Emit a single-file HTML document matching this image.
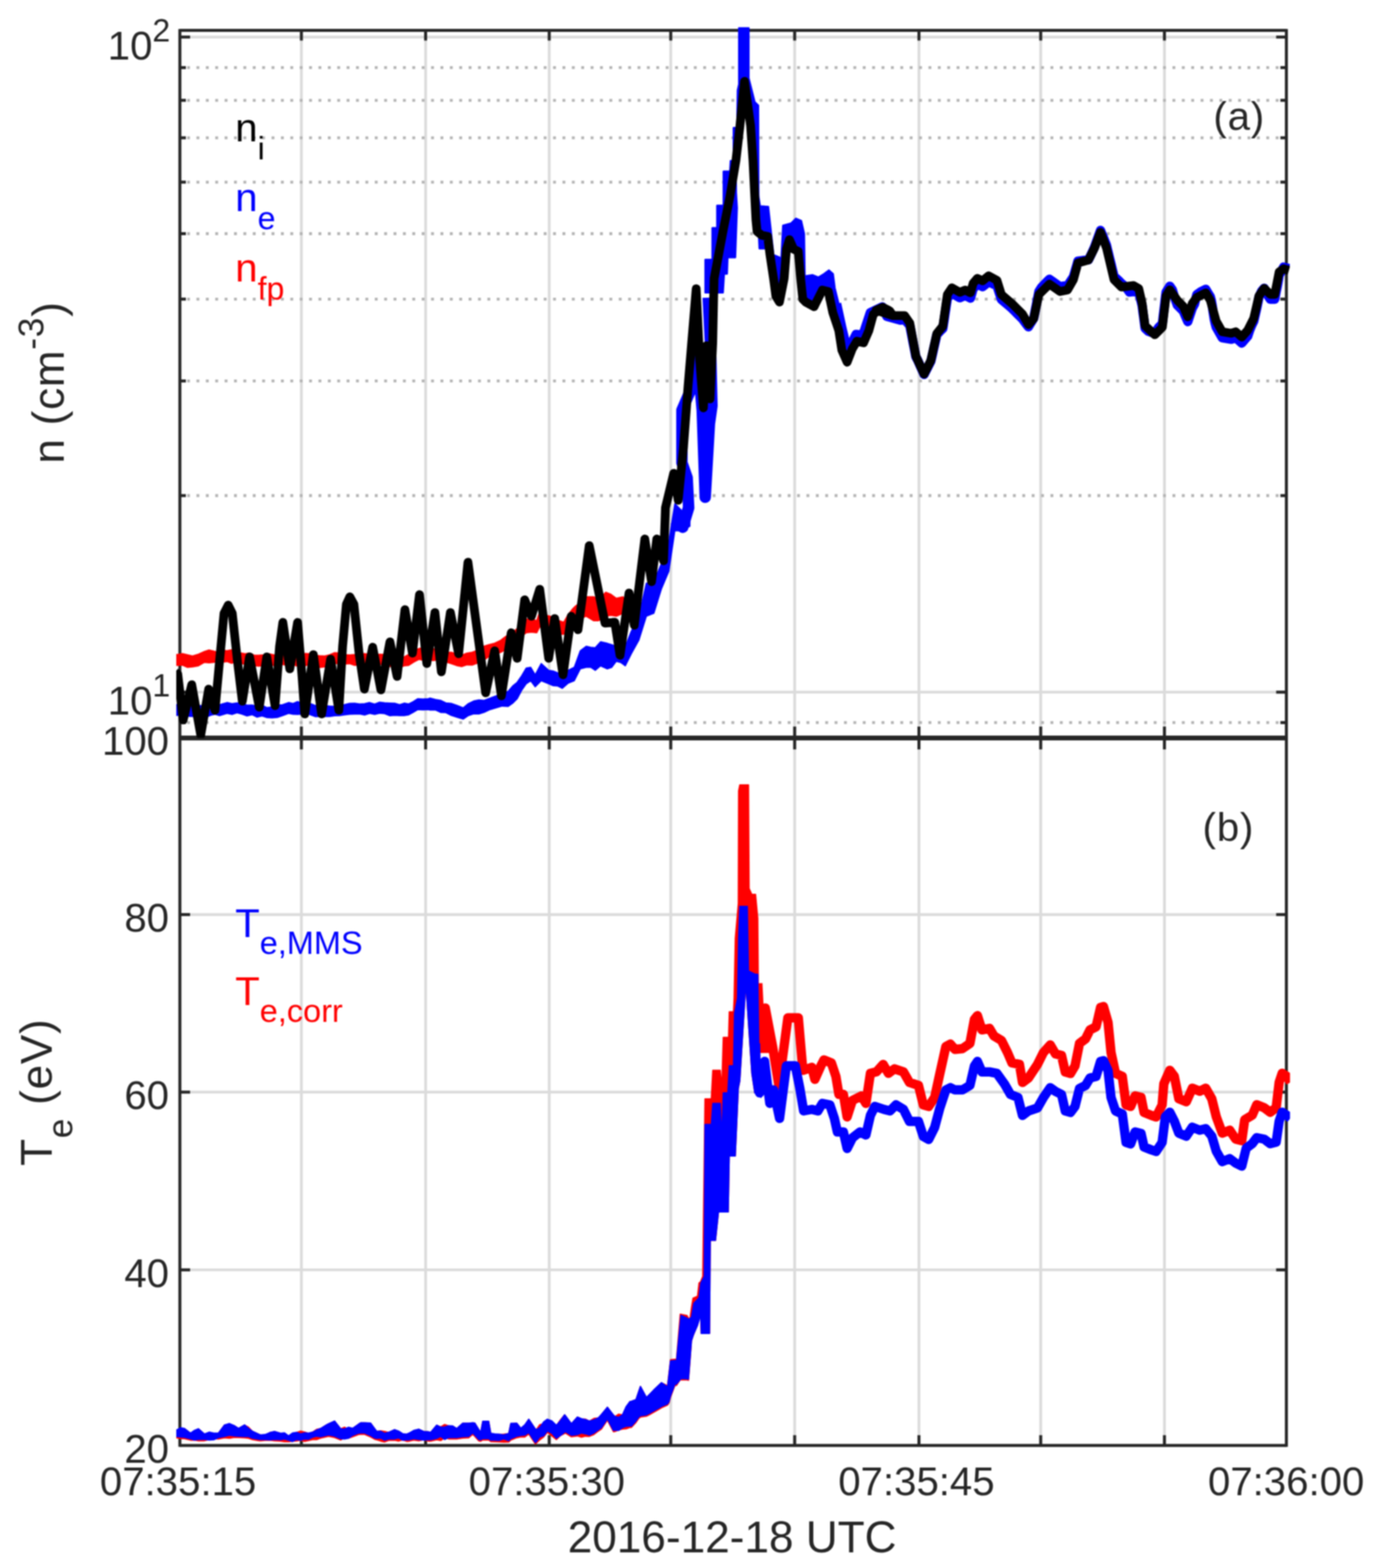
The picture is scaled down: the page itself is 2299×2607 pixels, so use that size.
<!DOCTYPE html>
<html lang="en"><head><meta charset="utf-8"><title>MMS density and electron temperature</title>
<style>html,body{margin:0;padding:0;background:#fff;}body{width:2299px;height:2607px;overflow:hidden;}svg{display:block;filter:blur(0.9px);}text{font-family:"Liberation Sans",Arial,Helvetica,sans-serif;}</style>
</head><body>
<svg width="2299" height="2607" viewBox="0 0 2299 2607" role="img" aria-label="MMS ion and electron density and electron temperature time series">
<rect width="2299" height="2607" fill="#fff"/>
<defs><clipPath id="c1"><rect x="293.0" y="45.4" width="1851.4" height="1181.6"/></clipPath>
<clipPath id="c2"><rect x="293.0" y="1227.0" width="1851.4" height="1178.2"/></clipPath></defs>
<g stroke="#dbdbdb" stroke-width="4.6" fill="none">
<line x1="501.0" y1="50.4" x2="501.0" y2="2403.2"/>
<line x1="707.5" y1="50.4" x2="707.5" y2="2403.2"/>
<line x1="913.0" y1="50.4" x2="913.0" y2="2403.2"/>
<line x1="1115.0" y1="50.4" x2="1115.0" y2="2403.2"/>
<line x1="1321.0" y1="50.4" x2="1321.0" y2="2403.2"/>
<line x1="1527.6" y1="50.4" x2="1527.6" y2="2403.2"/>
<line x1="1730.0" y1="50.4" x2="1730.0" y2="2403.2"/>
<line x1="1935.7" y1="50.4" x2="1935.7" y2="2403.2"/>
<line x1="299.0" y1="61.6" x2="2138.4" y2="61.6"/>
<line x1="299.0" y1="1150.8" x2="2138.4" y2="1150.8"/>
<line x1="299.0" y1="2111.3" x2="2138.4" y2="2111.3"/>
<line x1="299.0" y1="1815.8" x2="2138.4" y2="1815.8"/>
<line x1="299.0" y1="1520.6" x2="2138.4" y2="1520.6"/>
</g>
<g stroke="#b4b4b4" stroke-width="4.8" stroke-dasharray="4.8 10.8" fill="none">
<line x1="311.0" y1="1201.4" x2="2138.4" y2="1201.4"/>
<line x1="311.0" y1="824.0" x2="2138.4" y2="824.0"/>
<line x1="311.0" y1="633.4" x2="2138.4" y2="633.4"/>
<line x1="311.0" y1="497.3" x2="2138.4" y2="497.3"/>
<line x1="311.0" y1="388.5" x2="2138.4" y2="388.5"/>
<line x1="311.0" y1="302.8" x2="2138.4" y2="302.8"/>
<line x1="311.0" y1="229.1" x2="2138.4" y2="229.1"/>
<line x1="311.0" y1="166.8" x2="2138.4" y2="166.8"/>
<line x1="311.0" y1="112.4" x2="2138.4" y2="112.4"/>
</g>
<g stroke="#262626" stroke-width="5" fill="none">
<line x1="299.0" y1="48.2" x2="299.0" y2="2405.4"/>
<line x1="2138.4" y1="48.2" x2="2138.4" y2="2405.4"/>
<line x1="299.0" y1="50.4" x2="2138.4" y2="50.4"/>
<line x1="299.0" y1="2403.2" x2="2138.4" y2="2403.2"/>
<line x1="299.0" y1="1227.0" x2="2138.4" y2="1227.0" stroke-width="7.8"/>
<line x1="501.0" y1="50.4" x2="501.0" y2="67.4"/>
<line x1="501.0" y1="1208.0" x2="501.0" y2="1246.0"/>
<line x1="501.0" y1="2386.2" x2="501.0" y2="2403.2"/>
<line x1="707.5" y1="50.4" x2="707.5" y2="67.4"/>
<line x1="707.5" y1="1208.0" x2="707.5" y2="1246.0"/>
<line x1="707.5" y1="2386.2" x2="707.5" y2="2403.2"/>
<line x1="913.0" y1="50.4" x2="913.0" y2="67.4"/>
<line x1="913.0" y1="1208.0" x2="913.0" y2="1246.0"/>
<line x1="913.0" y1="2386.2" x2="913.0" y2="2403.2"/>
<line x1="1115.0" y1="50.4" x2="1115.0" y2="67.4"/>
<line x1="1115.0" y1="1208.0" x2="1115.0" y2="1246.0"/>
<line x1="1115.0" y1="2386.2" x2="1115.0" y2="2403.2"/>
<line x1="1321.0" y1="50.4" x2="1321.0" y2="67.4"/>
<line x1="1321.0" y1="1208.0" x2="1321.0" y2="1246.0"/>
<line x1="1321.0" y1="2386.2" x2="1321.0" y2="2403.2"/>
<line x1="1527.6" y1="50.4" x2="1527.6" y2="67.4"/>
<line x1="1527.6" y1="1208.0" x2="1527.6" y2="1246.0"/>
<line x1="1527.6" y1="2386.2" x2="1527.6" y2="2403.2"/>
<line x1="1730.0" y1="50.4" x2="1730.0" y2="67.4"/>
<line x1="1730.0" y1="1208.0" x2="1730.0" y2="1246.0"/>
<line x1="1730.0" y1="2386.2" x2="1730.0" y2="2403.2"/>
<line x1="1935.7" y1="50.4" x2="1935.7" y2="67.4"/>
<line x1="1935.7" y1="1208.0" x2="1935.7" y2="1246.0"/>
<line x1="1935.7" y1="2386.2" x2="1935.7" y2="2403.2"/>
<line x1="299.0" y1="61.6" x2="316.0" y2="61.6"/>
<line x1="2121.4" y1="61.6" x2="2138.4" y2="61.6"/>
<line x1="299.0" y1="1150.8" x2="316.0" y2="1150.8"/>
<line x1="2121.4" y1="1150.8" x2="2138.4" y2="1150.8"/>
<line x1="299.0" y1="1201.4" x2="309.0" y2="1201.4"/>
<line x1="2128.4" y1="1201.4" x2="2138.4" y2="1201.4"/>
<line x1="299.0" y1="824.0" x2="309.0" y2="824.0"/>
<line x1="2128.4" y1="824.0" x2="2138.4" y2="824.0"/>
<line x1="299.0" y1="633.4" x2="309.0" y2="633.4"/>
<line x1="2128.4" y1="633.4" x2="2138.4" y2="633.4"/>
<line x1="299.0" y1="497.3" x2="309.0" y2="497.3"/>
<line x1="2128.4" y1="497.3" x2="2138.4" y2="497.3"/>
<line x1="299.0" y1="388.5" x2="309.0" y2="388.5"/>
<line x1="2128.4" y1="388.5" x2="2138.4" y2="388.5"/>
<line x1="299.0" y1="302.8" x2="309.0" y2="302.8"/>
<line x1="2128.4" y1="302.8" x2="2138.4" y2="302.8"/>
<line x1="299.0" y1="229.1" x2="309.0" y2="229.1"/>
<line x1="2128.4" y1="229.1" x2="2138.4" y2="229.1"/>
<line x1="299.0" y1="166.8" x2="309.0" y2="166.8"/>
<line x1="2128.4" y1="166.8" x2="2138.4" y2="166.8"/>
<line x1="299.0" y1="112.4" x2="309.0" y2="112.4"/>
<line x1="2128.4" y1="112.4" x2="2138.4" y2="112.4"/>
<line x1="299.0" y1="2111.3" x2="316.0" y2="2111.3"/>
<line x1="2121.4" y1="2111.3" x2="2138.4" y2="2111.3"/>
<line x1="299.0" y1="1815.8" x2="316.0" y2="1815.8"/>
<line x1="2121.4" y1="1815.8" x2="2138.4" y2="1815.8"/>
<line x1="299.0" y1="1520.6" x2="316.0" y2="1520.6"/>
<line x1="2121.4" y1="1520.6" x2="2138.4" y2="1520.6"/>
</g>
<polygon clip-path="url(#c1)" points="290.0,1088.2 295.0,1088.2 303.3,1086.7 311.6,1088.7 320.0,1090.7 329.9,1087.6 339.9,1083.2 347.4,1080.8 354.9,1082.5 362.4,1084.5 369.9,1081.0 377.4,1081.9 384.8,1080.4 392.3,1081.6 399.8,1085.5 407.3,1087.1 414.8,1085.7 422.3,1089.2 429.8,1089.4 438.5,1088.7 447.2,1087.1 456.0,1088.9 464.7,1086.9 471.8,1085.2 479.0,1088.7 486.1,1089.3 493.2,1086.3 500.4,1088.1 507.5,1086.4 514.6,1086.9 522.9,1089.5 531.3,1090.3 539.6,1090.7 547.9,1088.7 556.2,1085.3 564.5,1085.7 572.9,1088.6 581.2,1089.1 589.5,1088.2 597.8,1087.1 606.1,1086.8 614.5,1088.2 622.8,1089.7 631.1,1087.7 639.4,1088.2 647.7,1090.1 656.1,1088.9 664.4,1091.9 671.9,1092.2 679.4,1088.2 688.1,1081.4 696.8,1078.2 704.3,1076.5 711.8,1078.7 720.0,1078.3 727.5,1081.0 734.9,1080.5 742.4,1084.8 749.9,1084.5 758.7,1086.9 767.4,1089.5 776.1,1086.0 784.9,1084.5 794.8,1080.8 803.6,1074.7 812.3,1072.0 822.3,1069.4 832.3,1064.6 839.8,1058.9 847.3,1053.7 854.7,1049.6 864.7,1040.4 874.7,1029.6 883.4,1028.4 892.2,1032.1 897.2,1017.1 905.9,1022.7 914.6,1024.6 922.1,1030.0 929.6,1031.9 937.1,1034.6 944.6,1021.5 952.1,1012.1 957.1,1007.2 965.8,1001.1 974.5,992.2 987.0,992.2 994.5,997.2 1007.0,984.7 1015.7,988.2 1024.5,994.7 1035.7,992.2 1037.4,994.7 1037.4,1017.1 1035.7,1019.6 1024.5,1024.6 1015.7,1023.0 1007.0,1024.6 994.5,1032.1 987.0,1032.1 974.5,1024.6 965.8,1028.1 957.1,1027.1 952.1,1032.1 944.6,1042.1 937.1,1054.6 929.6,1054.5 922.1,1051.2 914.6,1049.6 905.9,1045.9 897.2,1042.1 892.2,1052.1 883.4,1051.0 874.7,1052.1 864.7,1059.6 854.7,1072.0 847.3,1076.6 839.8,1080.5 832.3,1084.5 822.3,1088.5 812.3,1092.0 803.6,1098.1 794.8,1102.0 784.9,1105.7 776.1,1105.4 767.4,1108.2 758.7,1106.4 749.9,1103.2 742.4,1101.1 734.9,1100.1 727.5,1097.0 720.0,1098.3 711.8,1096.7 704.3,1097.9 696.8,1096.2 688.1,1100.6 679.4,1106.2 671.9,1107.0 664.4,1109.9 656.1,1106.4 647.7,1108.4 639.4,1106.2 631.1,1104.3 622.8,1104.1 614.5,1106.2 606.1,1104.1 597.8,1105.2 589.5,1106.2 581.2,1103.4 572.9,1104.1 564.5,1103.7 556.2,1103.1 547.9,1106.7 539.6,1108.7 531.3,1109.8 522.9,1103.7 514.6,1104.9 507.5,1106.9 500.4,1103.6 493.2,1107.2 486.1,1104.3 479.0,1107.2 471.8,1105.0 464.7,1104.9 456.0,1106.7 447.2,1104.6 438.5,1106.9 429.8,1107.4 422.3,1106.8 414.8,1103.7 407.3,1104.7 399.8,1102.5 392.3,1100.4 384.8,1102.9 377.4,1099.9 369.9,1101.0 362.4,1099.9 354.9,1101.2 347.4,1102.1 339.9,1101.2 329.9,1106.9 320.0,1108.7 311.6,1109.5 303.3,1105.9 295.0,1106.2 290.0,1106.2" fill="#ff0000" stroke="#ff0000" stroke-width="2.0" stroke-linejoin="round"/>
<polygon clip-path="url(#c1)" points="290.0,1171.8 298.3,1171.1 306.6,1173.9 315.0,1173.0 322.1,1171.7 329.2,1173.2 336.4,1173.3 343.5,1171.5 350.6,1170.3 357.7,1174.0 364.9,1171.8 377.4,1168.1 385.7,1169.9 394.0,1168.8 402.3,1169.3 410.6,1172.4 419.0,1172.3 427.3,1174.3 435.6,1172.6 443.9,1176.6 452.2,1175.5 461.0,1172.0 469.7,1171.8 479.7,1168.1 487.2,1169.7 494.7,1166.5 502.1,1169.3 509.6,1168.9 517.1,1170.2 524.6,1173.2 532.1,1170.0 539.6,1173.0 547.9,1174.1 556.2,1174.4 564.5,1171.8 572.9,1171.4 581.2,1169.6 589.5,1169.3 597.8,1170.6 606.1,1170.0 614.5,1168.1 622.8,1170.7 631.1,1167.4 639.4,1168.6 647.7,1168.9 656.1,1169.3 664.4,1171.8 671.9,1169.1 679.4,1170.5 686.8,1166.7 694.3,1161.8 703.1,1162.3 711.8,1161.8 715.0,1160.6 723.7,1162.9 732.4,1164.4 741.2,1168.7 749.9,1169.4 759.9,1172.9 769.9,1176.9 778.6,1169.8 787.4,1165.6 796.1,1163.8 804.8,1164.4 814.8,1160.8 824.8,1156.9 834.8,1152.2 844.8,1149.4 852.2,1140.6 859.7,1134.4 867.2,1123.5 874.7,1110.7 882.2,1109.5 889.7,1122.0 899.7,1103.2 912.1,1114.5 919.6,1115.7 927.1,1118.7 934.6,1122.0 944.6,1114.3 954.6,1109.5 964.6,1082.0 974.5,1074.5 982.0,1076.2 989.5,1077.0 998.3,1067.1 1009.5,1069.6 1017.0,1072.0 1024.5,1074.5 1031.9,1074.1 1039.4,1074.5 1049.4,1049.6 1061.9,1024.6 1074.4,969.7 1086.9,967.2 1099.3,937.3 1111.8,899.8 1121.8,837.4 1134.3,849.9 1146.8,800.0 1146.8,874.9 1134.3,882.4 1121.8,882.4 1111.8,949.8 1099.3,979.7 1086.9,1019.6 1074.4,1024.6 1061.9,1064.6 1049.4,1087.0 1039.4,1107.0 1031.9,1101.5 1024.5,1099.5 1017.0,1109.5 1009.5,1112.0 998.3,1107.0 989.5,1114.5 982.0,1109.5 974.5,1109.5 964.6,1112.0 954.6,1131.9 944.6,1135.8 934.6,1144.4 927.1,1140.6 919.6,1140.0 912.1,1136.9 899.7,1131.9 889.7,1141.9 882.2,1131.9 874.7,1136.9 867.2,1147.8 859.7,1161.9 852.2,1169.2 844.8,1174.4 834.8,1173.9 824.8,1176.9 814.8,1179.7 804.8,1184.4 796.1,1187.1 787.4,1186.9 778.6,1189.7 769.9,1195.6 759.9,1192.6 749.9,1189.4 741.2,1184.8 732.4,1184.4 723.7,1180.4 715.0,1180.6 711.8,1179.8 703.1,1180.2 694.3,1179.8 686.8,1184.3 679.4,1188.5 671.9,1189.7 664.4,1189.8 656.1,1189.3 647.7,1189.9 639.4,1186.5 631.1,1185.7 622.8,1187.7 614.5,1186.0 606.1,1188.8 597.8,1187.0 589.5,1187.3 581.2,1187.4 572.9,1188.6 564.5,1189.8 556.2,1190.0 547.9,1191.2 539.6,1191.0 532.1,1191.2 524.6,1191.5 517.1,1188.7 509.6,1185.9 502.1,1187.3 494.7,1187.7 487.2,1187.6 479.7,1186.0 469.7,1189.8 461.0,1192.8 452.2,1193.5 443.9,1193.0 435.6,1190.2 427.3,1192.3 419.0,1188.2 410.6,1190.3 402.3,1187.3 394.0,1185.1 385.7,1187.9 377.4,1186.0 364.9,1189.8 357.7,1187.5 350.6,1189.1 343.5,1192.0 336.4,1192.2 329.2,1188.3 322.1,1191.3 315.0,1191.0 306.6,1189.1 298.3,1188.9 290.0,1189.8" fill="#0000ff" stroke="#0000ff" stroke-width="2.0" stroke-linejoin="round"/>
<polyline clip-path="url(#c1)" points="1121.1,864.3 1134.9,876.7 1144.8,844.3 1142.3,794.4 1133.6,769.4 1133.6,682.1 1149.8,644.6 1159.8,594.7 1167.3,682.1 1172.3,826.8 1179.3,704.5 1183.5,674.6 1181.0,569.8 1177.3,494.9" fill="none" stroke="#0000ff" stroke-width="19.0" stroke-linejoin="round" stroke-linecap="butt"/>
<polygon clip-path="url(#c1)" points="1172.4,486.6 1172.4,431.8 1184.1,431.8 1184.1,379.0 1192.0,379.0 1192.0,341.8 1202.7,341.8 1202.7,285.0 1213.5,285.0 1214.5,267.4 1219.4,267.4 1219.4,212.6 1225.2,212.6 1226.2,150.0 1228.4,140.0 1228.4,44.9 1244.6,44.9 1244.6,129.8 1254.6,169.6 1260.5,175.4 1260.9,326.1 1254.6,326.1 1248.7,208.7 1238.0,179.4 1229.2,228.3 1223.3,287.0 1223.7,320.3 1225.2,345.7 1222.3,427.9 1209.6,427.9 1208.6,455.3 1203.7,455.3 1201.8,486.6" fill="#0000ff" stroke="#0000ff" stroke-width="3.0" stroke-linejoin="round"/>
<polygon clip-path="url(#c1)" points="1256.6,326.1 1260.9,326.1 1263.4,342.8 1277.1,343.7 1281.0,379.0 1285.9,424.0 1295.7,427.9 1298.0,443.5 1301.6,375.0 1315.3,371.1 1323.1,363.3 1331.9,367.2 1336.8,388.7 1337.8,459.2 1350.5,457.2 1360.3,461.2 1370.1,455.3 1377.9,449.4 1384.7,455.3 1387.7,478.8 1393.5,502.3 1400.0,531.6 1393.5,541.4 1385.7,512.0 1379.8,488.6 1370.1,482.7 1362.2,492.5 1354.4,508.1 1344.6,500.3 1334.8,498.3 1330.9,463.1 1327.0,418.1 1319.2,414.2 1312.3,398.5 1307.4,414.2 1303.5,463.1 1295.7,502.3 1289.8,492.5 1285.9,463.1 1280.0,424.0 1276.1,413.2 1262.4,413.2 1261.4,392.7 1258.5,384.8" fill="#0000ff" stroke="#0000ff" stroke-width="3.0" stroke-linejoin="round"/>
<polyline clip-path="url(#c1)" points="1390.7,504.9 1399.4,544.8 1408.9,584.7 1423.1,556.0 1434.4,557.3 1446.8,519.8 1466.8,510.3 1474.3,526.1 1496.8,532.3 1503.7,531.2 1508.0,536.1 1512.4,541.0 1513.5,546.8 1514.6,552.5 1515.7,558.3 1516.8,564.0 1517.9,569.8 1519.1,575.6 1520.2,581.3 1521.3,587.1 1522.4,592.9 1525.1,598.1 1527.9,604.2 1530.6,610.4 1533.4,616.5 1536.1,622.6 1538.9,617.2 1541.7,611.7 1544.5,606.3 1547.3,600.8 1548.8,594.5 1550.2,588.2 1551.6,581.8 1553.0,575.5 1554.5,569.1 1555.9,562.8 1557.3,556.5 1562.3,551.0 1567.3,546.2 1568.2,539.9 1569.2,533.6 1570.1,527.3 1571.0,521.0 1572.0,514.7 1572.9,508.5 1573.9,502.2 1574.8,495.9 1578.5,491.3 1582.3,486.7 1588.9,491.2 1595.5,495.0 1604.5,491.2 1613.2,495.7 1615.5,487.9 1617.7,480.0 1624.7,472.1 1633.4,476.7 1638.4,472.7 1643.4,468.5 1650.3,471.8 1657.2,474.8 1659.0,480.5 1660.9,486.3 1662.8,492.0 1664.6,497.8 1670.5,502.7 1676.3,507.7 1682.1,512.7 1686.5,517.1 1690.8,521.4 1695.2,525.8 1699.6,530.2 1702.9,534.7 1706.2,539.1 1709.6,543.4 1713.9,536.5 1718.3,529.5 1719.8,522.0 1721.2,514.5 1722.7,507.0 1724.1,499.5 1725.6,492.1 1727.0,484.6 1731.4,477.7 1735.8,473.0 1740.1,468.6 1744.5,464.3 1750.3,468.4 1756.2,472.6 1762.0,476.7 1768.2,475.5 1774.5,475.3 1777.8,470.3 1781.1,465.2 1784.4,460.2 1786.3,453.8 1788.2,447.2 1790.1,440.7 1791.9,434.1 1797.8,433.4 1803.6,432.6 1809.4,431.9 1812.7,425.5 1816.1,418.3 1819.4,411.0 1821.9,404.0 1824.4,397.0 1826.9,390.0 1829.4,383.0 1831.9,389.1 1834.4,395.2 1836.9,401.6 1839.4,407.9 1840.9,414.4 1842.5,420.8 1844.0,427.2 1845.6,433.6 1847.2,440.1 1848.7,446.5 1850.3,452.9 1851.8,459.3 1858.1,465.1 1864.3,471.3 1871.0,476.7 1877.6,485.6 1884.3,484.8 1893.0,486.1 1894.4,491.5 1895.8,496.8 1897.2,502.2 1898.6,508.3 1899.4,514.5 1900.2,520.8 1901.1,527.0 1901.9,533.2 1902.7,539.4 1903.5,545.7 1908.9,550.7 1914.3,552.7 1919.7,554.1 1926.0,544.4 1932.2,538.2 1933.0,531.6 1933.7,525.1 1934.5,518.6 1935.3,512.0 1936.1,505.5 1936.8,498.9 1937.6,492.4 1938.4,485.9 1944.6,475.9 1948.8,481.7 1952.9,495.7 1957.1,507.3 1962.1,512.3 1967.0,517.3 1969.5,523.1 1972.0,528.9 1974.5,534.7 1977.0,527.3 1979.5,519.8 1982.0,512.3 1985.7,505.3 1989.5,489.9 1996.9,484.6 2004.4,480.9 2008.1,487.1 2011.9,493.3 2013.5,499.2 2015.2,508.8 2016.8,519.9 2018.5,531.0 2020.2,538.4 2021.8,544.2 2025.2,550.0 2028.5,555.8 2031.8,561.6 2039.3,562.9 2046.7,564.1 2054.2,561.6 2059.2,566.0 2064.2,570.4 2069.1,564.7 2074.1,559.0 2077.4,549.1 2080.8,540.9 2084.1,534.2 2085.5,528.0 2087.0,521.8 2088.4,515.5 2089.9,508.6 2091.4,501.2 2092.8,493.8 2097.2,484.1 2101.5,479.2 2106.5,489.6 2111.5,497.4 2119.0,497.4 2120.2,491.2 2121.4,484.9 2122.7,478.7 2123.9,472.5 2125.2,465.0 2126.4,457.4 2133.9,444.2 2142.6,446.5" fill="none" stroke="#0000ff" stroke-width="15.5" stroke-linejoin="round" stroke-linecap="butt"/>
<polyline clip-path="url(#c1)" points="291.2,1117.1 295.5,1120.9 304.5,1197.0 318.7,1138.4 333.7,1222.0 346.9,1145.8 357.4,1180.8 364.9,1099.7 372.4,1019.8 379.4,1006.1 386.1,1019.8 394.8,1099.7 402.8,1165.8 414.8,1092.2 431.0,1175.8 443.5,1092.2 457.2,1173.3 464.7,1074.7 470.2,1034.8 481.7,1112.1 494.7,1034.8 502.1,1124.6 506.6,1187.0 520.9,1088.4 534.6,1187.0 549.6,1095.9 563.3,1180.8 569.5,1074.7 575.8,1004.8 581.5,992.3 588.3,1004.8 597.0,1087.2 605.7,1145.8 619.5,1076.0 633.2,1147.1 648.2,1067.2 660.1,1124.6 673.1,1013.6 685.6,1085.9 697.3,988.6 709.5,1103.2 723.0,1018.4 733.7,1117.0 748.7,1018.4 762.4,1087.0 777.9,934.8 807.3,1151.9 822.3,1082.0 833.5,1156.9 849.8,1052.1 859.7,1094.5 872.2,997.2 883.4,1024.6 897.2,979.7 912.1,1094.5 922.1,1028.4 935.9,1122.0 949.6,1024.6 960.8,1047.1 979.5,907.3 1005.7,1035.9 1022.0,1034.6 1030.7,1089.5 1045.7,985.9 1054.4,1039.6 1071.9,896.1 1083.1,967.2 1091.8,896.1 1103.1,932.3 1106.2,844.3 1119.9,786.9 1127.4,831.8 1136.1,744.5 1143.6,644.6 1149.8,569.8 1157.3,479.9 1162.8,594.7 1169.3,678.3 1174.3,574.7 1180.3,663.3 1184.8,569.8 1186.3,494.9 1187.1,463.1 1201.8,384.8 1213.5,326.1 1223.3,267.4 1230.1,208.7 1237.6,135.3 1247.7,208.7 1251.7,267.4 1254.6,326.1 1256.6,365.3 1258.5,384.8 1266.3,391.1 1276.1,393.1 1280.0,424.0 1285.9,463.1 1289.8,492.5 1295.7,502.3 1303.5,463.1 1307.4,414.2 1312.3,398.5 1319.2,414.2 1327.0,418.1 1330.9,463.1 1334.5,497.4 1339.5,502.4 1353.2,509.9 1367.0,482.4 1377.0,484.9 1384.4,519.8 1394.4,549.8 1399.4,582.2 1408.2,602.2 1416.9,579.7 1424.4,567.3 1435.6,569.8 1444.3,549.8 1451.8,522.3 1466.8,512.3 1479.3,517.3 1484.3,524.8 1456.2,515.9 1467.5,510.9 1477.5,515.9 1484.9,524.7 1503.7,524.7 1512.4,537.2 1522.4,592.1 1536.1,622.0 1547.3,599.6 1557.3,554.6 1567.3,542.1 1574.8,489.7 1582.3,478.5 1595.5,486.0 1604.5,482.2 1613.2,486.7 1617.7,471.0 1624.7,462.8 1633.4,466.8 1643.4,458.5 1657.2,466.0 1664.6,489.7 1682.1,504.7 1699.6,522.2 1709.6,539.7 1718.3,529.7 1727.0,489.7 1744.5,472.3 1762.0,484.7 1774.5,482.2 1784.4,464.8 1791.9,437.3 1809.4,432.3 1819.4,412.4 1829.4,386.2 1839.4,412.4 1851.8,464.8 1864.3,477.3 1884.3,474.8 1893.0,479.8 1898.6,504.3 1903.5,541.7 1919.7,556.6 1932.2,544.2 1938.4,491.9 1944.6,481.9 1957.1,499.3 1967.0,509.3 1974.5,526.7 1982.0,504.3 1989.5,494.4 2004.4,486.9 2011.9,499.3 2021.8,534.2 2031.8,551.6 2046.7,554.1 2054.2,551.6 2064.2,560.4 2074.1,549.1 2084.1,529.2 2092.8,491.9 2101.5,479.4 2111.5,489.4 2119.0,489.4 2126.4,452.0 2133.9,447.0 2142.6,449.5" fill="none" stroke="#000000" stroke-width="14.5" stroke-linejoin="round" stroke-linecap="butt"/>
<polygon clip-path="url(#c2)" points="290.0,2379.7 293.3,2378.1 300.0,2379.0 306.6,2375.4 316.6,2383.0 323.3,2380.2 329.9,2375.8 339.9,2384.6 347.7,2382.8 355.4,2383.1 363.2,2382.7 373.2,2369.4 381.5,2369.6 389.8,2370.7 396.5,2375.2 406.5,2369.4 413.1,2373.0 419.8,2380.0 429.8,2384.5 433.1,2386.0 440.8,2386.5 448.6,2381.8 456.4,2380.2 466.4,2383.2 473.0,2384.6 479.7,2387.7 486.3,2387.4 493.0,2381.7 499.6,2379.4 506.3,2381.0 512.9,2383.1 519.6,2381.0 526.3,2376.6 532.9,2375.3 542.9,2369.1 546.2,2367.5 556.2,2362.9 566.2,2375.7 572.8,2372.9 579.5,2378.1 586.2,2375.0 596.1,2368.0 599.5,2365.8 606.1,2365.8 616.1,2366.3 622.8,2375.5 626.1,2380.0 632.7,2379.1 639.4,2379.9 646.1,2381.6 656.0,2377.2 662.7,2382.3 669.4,2384.4 676.0,2384.7 679.3,2383.3 687.7,2381.7 696.0,2376.4 704.3,2380.1 712.6,2380.8 715.9,2381.7 725.9,2369.8 732.6,2372.4 739.2,2368.4 745.9,2370.7 752.5,2371.0 759.2,2375.4 769.2,2366.5 779.2,2366.4 785.8,2365.8 789.2,2366.1 795.8,2376.8 799.1,2381.7 802.5,2363.4 812.4,2363.4 815.8,2383.3 822.4,2386.2 829.1,2384.8 837.4,2384.6 845.7,2383.4 849.1,2366.9 859.0,2366.4 865.7,2375.0 872.3,2370.1 879.0,2359.8 889.9,2376.0 891.2,2377.5 897.4,2368.7 903.7,2367.3 909.9,2359.9 917.4,2366.6 924.9,2370.1 931.7,2360.6 938.6,2352.5 939.9,2354.0 949.8,2367.3 959.8,2356.2 966.5,2359.2 973.1,2359.4 979.8,2362.9 987.3,2358.3 994.8,2357.4 999.8,2351.9 1009.7,2339.9 1019.7,2352.8 1022.2,2355.3 1028.5,2351.2 1034.7,2352.6 1040.9,2340.2 1047.2,2330.4 1049.7,2329.9 1057.2,2327.2 1062.1,2312.5 1064.6,2305.3 1074.6,2323.8 1079.6,2318.6 1087.1,2310.9 1094.6,2303.8 1099.6,2299.1 1109.6,2304.0 1112.1,2282.7 1114.6,2260.8 1122.0,2260.0 1124.5,2260.5 1130.8,2185.0 1142.0,2187.2 1144.5,2191.7 1147.0,2192.2 1149.5,2173.7 1152.0,2158.5 1159.5,2155.2 1162.0,2133.1 1164.5,2131.2 1168.2,2122.2 1171.9,1827.1 1182.4,1827.1 1184.9,1779.6 1197.3,1779.6 1199.8,1809.6 1202.3,1724.7 1211.1,1724.7 1212.3,1682.3 1219.3,1682.3 1220.3,1659.8 1222.3,1560.0 1227.3,1502.1 1227.8,1314.9 1229.8,1304.9 1244.3,1304.9 1245.3,1477.1 1249.8,1487.1 1256.0,1487.1 1259.7,1527.0 1261.0,1684.8 1272.2,1671.1 1279.7,1684.8 1279.7,1749.7 1259.7,1749.7 1254.7,1817.1 1249.8,1784.6 1239.8,1634.9 1229.8,1797.1 1227.3,1809.6 1222.3,1921.9 1212.3,1921.9 1210.6,2014.9 1194.4,2014.9 1189.4,2062.3 1180.7,2062.3 1179.5,2217.1 1165.7,2217.1 1164.5,2184.6 1162.0,2192.5 1159.5,2202.9 1152.0,2221.3 1149.5,2229.2 1147.0,2263.2 1144.5,2294.9 1142.0,2294.3 1130.8,2294.0 1124.5,2303.4 1122.0,2303.3 1114.6,2323.1 1112.1,2332.4 1109.6,2336.2 1099.6,2340.6 1094.6,2343.7 1087.1,2347.9 1079.6,2352.1 1074.6,2354.6 1064.6,2356.1 1062.1,2357.9 1057.2,2365.0 1049.7,2373.2 1047.2,2373.3 1040.9,2375.6 1034.7,2376.0 1028.5,2377.5 1022.2,2380.0 1019.7,2380.4 1009.7,2361.3 999.8,2375.9 994.8,2379.3 987.3,2385.0 979.8,2388.2 973.1,2387.9 966.5,2389.6 959.8,2387.4 949.8,2388.8 939.9,2382.7 938.6,2383.3 931.7,2386.9 924.9,2393.5 917.4,2387.4 909.9,2381.3 903.7,2389.2 897.4,2393.9 891.2,2399.9 889.9,2400.8 879.0,2384.1 872.3,2389.3 865.7,2388.9 859.0,2390.4 849.1,2394.2 845.7,2397.5 837.4,2397.8 829.1,2397.3 822.4,2397.1 815.8,2396.8 812.4,2394.3 802.5,2394.0 799.1,2396.2 795.8,2395.5 789.2,2388.0 785.8,2384.8 779.2,2390.5 769.2,2390.9 759.2,2392.4 752.5,2392.2 745.9,2392.4 739.2,2390.4 732.6,2395.1 725.9,2393.7 715.9,2395.9 712.6,2396.0 704.3,2393.7 696.0,2395.5 687.7,2394.3 679.3,2396.3 676.0,2396.4 669.4,2394.1 662.7,2395.9 656.0,2394.6 646.1,2394.7 639.4,2397.4 632.7,2395.9 626.1,2393.7 622.8,2393.0 616.1,2389.1 606.1,2384.8 599.5,2384.8 596.1,2385.1 586.2,2388.7 579.5,2391.1 572.8,2390.5 566.2,2394.2 556.2,2390.0 546.2,2388.0 542.9,2388.7 532.9,2391.0 526.3,2393.5 519.6,2393.6 512.9,2395.1 506.3,2396.6 499.6,2394.6 493.0,2395.7 486.3,2396.3 479.7,2396.9 473.0,2397.0 466.4,2396.0 456.4,2395.4 448.6,2394.5 440.8,2394.7 433.1,2395.6 429.8,2395.3 419.8,2393.5 413.1,2391.2 406.5,2390.6 396.5,2390.1 389.8,2389.8 381.5,2391.3 373.2,2390.4 363.2,2392.5 355.4,2391.9 347.7,2393.6 339.9,2395.4 329.9,2395.4 323.3,2394.3 316.6,2394.4 306.6,2392.0 300.0,2391.7 293.3,2390.4 290.0,2391.8" fill="#ff0000" stroke="#ff0000" stroke-width="2.0" stroke-linejoin="round"/>
<polyline clip-path="url(#c2)" points="1259.7,1634.9 1263.5,1709.8 1272.2,1676.1 1284.7,1742.2 1294.7,1804.6 1309.7,1692.3 1327.1,1692.3 1334.6,1779.6 1349.6,1774.6 1354.6,1794.6 1364.6,1772.1 1369.6,1762.2 1382.0,1767.2 1389.5,1789.6 1394.5,1819.6 1402.0,1819.6 1408.2,1857.0 1417.0,1829.6 1431.9,1822.1 1439.4,1834.5 1446.9,1784.6 1456.9,1782.1 1468.1,1769.7 1476.9,1784.6 1486.9,1777.1 1501.8,1782.1 1511.8,1799.6 1526.8,1804.6 1534.9,1837.1 1543.7,1839.6 1553.7,1824.6 1562.4,1784.7 1572.4,1739.8 1579.9,1736.0 1587.4,1744.8 1599.8,1743.5 1612.3,1734.8 1619.8,1694.8 1624.8,1688.6 1632.3,1712.3 1644.8,1709.8 1652.2,1722.3 1664.7,1729.8 1674.7,1749.8 1682.2,1767.2 1694.7,1769.7 1699.7,1799.7 1709.7,1792.2 1724.6,1769.7 1734.6,1749.8 1745.8,1737.3 1754.6,1752.2 1764.6,1754.7 1770.8,1782.2 1779.5,1784.7 1787.0,1772.2 1794.5,1734.8 1804.5,1727.3 1812.0,1712.3 1822.0,1707.3 1829.5,1674.9 1834.4,1673.6 1841.9,1699.8 1846.9,1749.8 1854.4,1784.7 1865.6,1789.7 1871.9,1837.1 1879.4,1839.6 1886.9,1822.1 1896.8,1824.6 1901.8,1849.6 1914.3,1854.6 1921.8,1857.1 1931.8,1837.1 1934.7,1801.9 1944.6,1779.5 1952.1,1789.4 1959.6,1826.8 1972.0,1831.8 1982.0,1809.3 1994.4,1814.3 2004.4,1809.3 2014.4,1826.8 2021.8,1856.7 2031.8,1884.0 2044.2,1879.1 2054.2,1894.0 2064.2,1896.5 2069.1,1861.6 2081.6,1854.2 2089.1,1836.7 2101.5,1841.7 2111.5,1849.2 2121.4,1841.7 2126.4,1799.4 2131.4,1784.4 2138.9,1789.4 2145.1,1799.4" fill="none" stroke="#ff0000" stroke-width="15.5" stroke-linejoin="round" stroke-linecap="butt"/>
<polygon clip-path="url(#c2)" points="290.0,2379.5 293.3,2377.8 300.0,2373.8 306.6,2375.1 316.6,2382.7 323.3,2378.1 329.9,2375.5 339.9,2384.3 347.7,2381.1 355.4,2382.8 363.2,2382.5 373.2,2369.1 381.5,2366.8 389.8,2370.5 396.5,2374.9 406.5,2369.1 413.1,2374.8 419.8,2379.7 429.8,2384.3 433.1,2385.8 440.8,2385.1 448.6,2381.8 456.4,2379.9 466.4,2382.9 473.0,2382.2 479.7,2387.4 486.3,2382.6 493.0,2381.4 499.6,2383.9 506.3,2382.3 512.9,2382.8 519.6,2381.3 526.3,2377.6 532.9,2375.0 542.9,2368.9 546.2,2367.2 556.2,2362.6 566.2,2375.4 572.8,2375.8 579.5,2373.0 586.2,2374.7 596.1,2367.7 599.5,2365.5 606.1,2365.5 616.1,2366.0 622.8,2375.2 626.1,2379.7 632.7,2379.6 639.4,2383.2 646.1,2381.3 656.0,2376.9 662.7,2379.4 669.4,2383.7 676.0,2384.4 679.3,2383.0 687.7,2378.3 696.0,2376.1 704.3,2380.0 712.6,2380.6 715.9,2381.4 725.9,2369.5 732.6,2372.8 739.2,2372.4 745.9,2370.4 752.5,2370.8 759.2,2375.2 769.2,2366.2 779.2,2366.2 785.8,2365.5 789.2,2365.9 795.8,2376.5 799.1,2381.5 802.5,2363.1 812.4,2363.1 815.8,2383.0 822.4,2384.1 829.1,2384.5 837.4,2385.7 845.7,2383.1 849.1,2366.6 859.0,2366.2 865.7,2374.7 872.3,2369.1 879.0,2359.6 889.9,2375.7 891.2,2377.2 897.4,2373.4 903.7,2364.1 909.9,2359.6 917.4,2362.5 924.9,2369.8 931.7,2361.8 938.6,2352.2 939.9,2353.7 949.8,2367.1 959.8,2356.0 966.5,2358.6 973.1,2360.3 979.8,2362.6 987.3,2360.6 994.8,2357.2 999.8,2351.6 1009.7,2339.6 1019.7,2352.5 1022.2,2355.0 1028.5,2356.4 1034.7,2352.4 1040.9,2338.5 1047.2,2330.2 1049.7,2329.6 1057.2,2326.9 1062.1,2312.2 1064.6,2305.1 1074.6,2323.5 1079.6,2318.4 1087.1,2310.6 1094.6,2303.5 1099.6,2298.8 1109.6,2305.9 1112.1,2284.7 1114.6,2262.7 1122.0,2261.9 1124.5,2262.5 1132.0,2187.0 1142.0,2191.4 1144.5,2193.6 1149.5,2190.1 1153.2,2166.9 1159.5,2160.4 1162.0,2157.5 1164.5,2136.2 1165.0,2133.2 1170.7,2122.2 1171.9,1869.5 1182.4,1869.5 1184.9,1834.5 1197.3,1834.5 1199.8,1891.9 1202.3,1817.1 1209.8,1817.1 1212.3,1772.1 1219.3,1772.1 1221.0,1684.8 1226.0,1659.8 1227.8,1560.0 1229.8,1507.1 1242.3,1507.1 1244.3,1614.4 1254.7,1619.4 1259.7,1619.9 1262.2,1784.6 1265.2,1817.1 1265.2,1824.6 1254.7,1817.1 1249.8,1784.6 1239.8,1634.9 1229.8,1797.1 1227.3,1809.6 1222.3,1921.9 1212.3,1921.9 1210.6,2014.9 1194.4,2014.9 1189.4,2062.3 1180.7,2062.3 1179.5,2217.1 1165.7,2217.1 1165.0,2193.6 1164.5,2185.2 1162.0,2195.5 1159.5,2203.5 1153.2,2218.0 1149.5,2229.1 1144.5,2292.9 1142.0,2292.6 1132.0,2292.1 1124.5,2301.4 1122.0,2301.4 1114.6,2321.1 1112.1,2330.4 1109.6,2334.3 1099.6,2338.4 1094.6,2341.5 1087.1,2345.7 1079.6,2349.9 1074.6,2352.4 1064.6,2353.9 1062.1,2355.7 1057.2,2362.8 1049.7,2371.0 1047.2,2371.0 1040.9,2371.4 1034.7,2373.8 1028.5,2378.2 1022.2,2377.8 1019.7,2378.2 1009.7,2359.1 999.8,2373.7 994.8,2377.1 987.3,2382.6 979.8,2386.0 973.1,2383.9 966.5,2382.5 959.8,2385.2 949.8,2386.5 939.9,2380.5 938.6,2381.1 931.7,2386.6 924.9,2391.3 917.4,2383.1 909.9,2379.1 903.7,2387.3 897.4,2389.0 891.2,2397.6 889.9,2398.5 879.0,2381.9 872.3,2386.1 865.7,2386.7 859.0,2388.1 849.1,2392.0 845.7,2395.3 837.4,2392.2 829.1,2395.1 822.4,2394.6 815.8,2394.6 812.4,2392.0 802.5,2391.8 799.1,2394.0 795.8,2393.3 789.2,2385.8 785.8,2382.6 779.2,2388.2 769.2,2388.7 759.2,2390.2 752.5,2390.0 745.9,2390.2 739.2,2393.4 732.6,2388.3 725.9,2391.5 715.9,2393.7 712.6,2393.8 704.3,2394.2 696.0,2393.3 687.7,2392.1 679.3,2394.1 676.0,2394.1 669.4,2394.4 662.7,2390.8 656.0,2392.4 646.1,2392.5 639.4,2394.5 632.7,2390.9 626.1,2391.5 622.8,2390.8 616.1,2386.9 606.1,2382.6 599.5,2382.6 596.1,2382.9 586.2,2386.5 579.5,2391.3 572.8,2392.5 566.2,2392.0 556.2,2387.8 546.2,2385.7 542.9,2386.5 532.9,2388.8 526.3,2387.9 519.6,2389.6 512.9,2392.9 506.3,2392.6 499.6,2394.5 493.0,2393.4 486.3,2396.7 479.7,2394.6 473.0,2392.5 466.4,2393.8 456.4,2393.2 448.6,2394.1 440.8,2393.4 433.1,2393.4 429.8,2393.1 419.8,2391.3 413.1,2388.5 406.5,2388.4 396.5,2387.9 389.8,2387.6 381.5,2386.2 373.2,2388.2 363.2,2390.2 355.4,2393.8 347.7,2394.2 339.9,2393.1 329.9,2393.2 323.3,2394.2 316.6,2392.2 306.6,2389.8 300.0,2389.3 293.3,2388.2 290.0,2389.6" fill="#0000ff" stroke="#0000ff" stroke-width="2.0" stroke-linejoin="round"/>
<polyline clip-path="url(#c2)" points="1256.0,1734.7 1257.2,1784.6 1262.7,1817.1 1271.0,1764.7 1279.7,1834.5 1285.9,1812.1 1295.9,1859.5 1307.2,1772.1 1322.1,1772.1 1329.6,1809.6 1335.9,1847.0 1349.6,1844.5 1359.6,1847.0 1367.1,1834.5 1379.5,1837.0 1387.0,1859.5 1392.0,1882.0 1402.0,1882.0 1408.2,1909.4 1417.0,1891.9 1429.5,1882.0 1439.4,1887.0 1446.9,1854.5 1454.4,1839.5 1469.4,1844.5 1479.4,1847.0 1489.4,1837.0 1501.8,1844.5 1511.8,1864.5 1526.8,1864.5 1534.9,1889.5 1543.7,1894.5 1553.7,1874.5 1562.4,1842.1 1572.4,1812.1 1579.9,1808.4 1587.4,1812.1 1599.8,1812.1 1612.3,1804.7 1619.8,1772.2 1624.8,1764.7 1632.3,1782.2 1644.8,1782.2 1657.2,1784.7 1669.7,1802.2 1679.7,1819.6 1692.2,1824.6 1699.7,1854.6 1709.7,1847.1 1724.6,1842.1 1734.6,1824.6 1745.8,1808.4 1754.6,1814.6 1764.6,1819.6 1770.8,1847.1 1779.5,1849.6 1787.0,1839.6 1794.5,1809.7 1804.5,1804.7 1812.0,1792.2 1822.0,1789.7 1829.5,1764.7 1834.4,1763.5 1841.9,1779.7 1846.9,1824.6 1854.4,1847.1 1865.6,1852.1 1871.9,1899.5 1879.4,1902.0 1886.9,1882.0 1896.8,1884.5 1901.8,1907.0 1914.3,1912.0 1921.8,1914.5 1931.8,1899.5 1937.2,1856.7 1944.6,1849.2 1952.1,1864.1 1959.6,1884.0 1972.0,1889.0 1982.0,1874.1 1994.4,1879.1 2004.4,1876.6 2014.4,1889.0 2021.8,1913.9 2031.8,1931.4 2044.2,1926.4 2054.2,1933.9 2064.2,1938.8 2071.6,1909.0 2081.6,1901.5 2089.1,1891.5 2101.5,1894.0 2111.5,1901.5 2121.4,1899.0 2126.4,1864.1 2131.4,1849.2 2138.9,1854.2 2145.1,1859.1" fill="none" stroke="#0000ff" stroke-width="15.5" stroke-linejoin="round" stroke-linecap="butt"/>
<g fill="#262626" font-size="66.8">
<text x="179" y="98.5">10<tspan dy="-30" font-size="53.4">2</tspan></text>
<text x="179" y="1187.5">10<tspan dy="-30" font-size="53.4">1</tspan></text>
<text x="281" y="1255.3" text-anchor="end">100</text>
<text x="281" y="1548.9" text-anchor="end">80</text>
<text x="281" y="1844.1" text-anchor="end">60</text>
<text x="281" y="2139.6" text-anchor="end">40</text>
<text x="281" y="2431.5" text-anchor="end">20</text>
<text x="296.0" y="2486" text-anchor="middle">07:35:15</text>
<text x="909.0" y="2486" text-anchor="middle">07:35:30</text>
<text x="1523.4" y="2486" text-anchor="middle">07:35:45</text>
<text x="2138.0" y="2486" text-anchor="middle">07:36:00</text>
<text x="2060" y="216" text-anchor="middle" letter-spacing="1.5">(a)</text>
<text x="2042" y="1397.5" text-anchor="middle" letter-spacing="1.5">(b)</text>
</g>
<g fill="#262626" font-size="73.4">
<text x="1217" y="2581" text-anchor="middle">2016-12-18 UTC</text>
<text transform="translate(106,636) rotate(-90)" text-anchor="middle" letter-spacing="1.2">n (cm<tspan dy="-34" font-size="58.7">-3</tspan><tspan dy="34">)</tspan></text>
<text transform="translate(86,1816) rotate(-90)" text-anchor="middle" letter-spacing="1.2">T<tspan dy="34" font-size="58.7">e</tspan><tspan dy="-34"> (eV)</tspan></text>
</g>
<g font-size="66.8">
<text x="391" y="235" fill="#000">n<tspan dy="30" font-size="53.4">i</tspan></text>
<text x="391" y="351" fill="#00f">n<tspan dy="30" font-size="53.4">e</tspan></text>
<text x="391" y="468" fill="#f00">n<tspan dy="30" font-size="53.4">fp</tspan></text>
<text x="391" y="1558" fill="#00f">T<tspan dy="28" font-size="54">e,MMS</tspan></text>
<text x="391" y="1671" fill="#f00">T<tspan dy="28" font-size="54">e,corr</tspan></text>
</g>
</svg></body></html>
